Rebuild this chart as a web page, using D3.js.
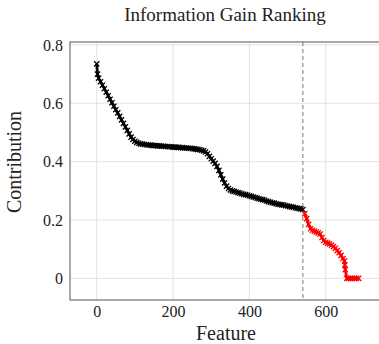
<!DOCTYPE html>
<html>
<head>
<meta charset="utf-8">
<script src="https://cdn.jsdelivr.net/npm/d3@7"></script>
<style>
  body { margin: 0; background: #fff; }
  svg { display: block; }
</style>
</head>
<body>
<div id="chart"></div>
<script>
// feature rank index and its information-gain contribution
const features = [
  0, 2, 5, 10, 15, 20, 25, 30, 35, 40, 45, 50, 55, 60, 65, 70, 75, 80, 85, 90, 95,
  100, 105, 110, 115, 120, 125, 130, 135, 140, 145, 150, 155, 160, 165, 170, 175,
  180, 185, 190, 195, 200, 205, 210, 215, 220, 225, 230, 235, 240, 245, 250, 255,
  260, 265, 270, 275, 280, 285, 290, 295, 300, 305, 310, 315, 320, 325, 330, 335,
  340, 345, 350, 355, 360, 365, 370, 375, 380, 385, 390, 395, 400, 405, 410, 415,
  420, 425, 430, 435, 440, 445, 450, 455, 460, 465, 470, 475, 480, 485, 490, 495,
  500, 505, 510, 515, 520, 525, 530, 535, 540,
  545, 550, 555, 560, 565, 570, 575, 580, 585, 590, 595, 600, 605, 610, 615, 620,
  625, 630, 635, 640, 645, 649, 650, 651,
  655, 660, 665, 670, 675, 680, 686
];
const contribution = [
  0.735, 0.700, 0.686, 0.674, 0.662, 0.650, 0.638, 0.626, 0.614, 0.602, 0.590,
  0.578, 0.567, 0.555, 0.543, 0.531, 0.519, 0.507, 0.495, 0.484, 0.476,
  0.470, 0.466, 0.463, 0.461, 0.460, 0.459, 0.458, 0.457, 0.457, 0.456, 0.455,
  0.455, 0.454, 0.454, 0.453, 0.453, 0.452, 0.452, 0.451, 0.451, 0.450, 0.450,
  0.449, 0.449, 0.448, 0.448, 0.447, 0.447, 0.446, 0.446, 0.445, 0.444, 0.443,
  0.442, 0.441, 0.439, 0.437, 0.433, 0.427, 0.418, 0.410, 0.402, 0.394, 0.384,
  0.370, 0.355, 0.340, 0.327, 0.316, 0.308, 0.303, 0.300, 0.298, 0.296, 0.294,
  0.292, 0.290, 0.288, 0.287, 0.285, 0.283, 0.281, 0.279, 0.277, 0.275, 0.273,
  0.271, 0.270, 0.268, 0.265, 0.263, 0.261, 0.259, 0.258, 0.256, 0.254, 0.253,
  0.252, 0.251, 0.249, 0.248, 0.246, 0.245, 0.244, 0.242, 0.241, 0.239, 0.238,
  0.236,
  0.222, 0.205, 0.185, 0.170, 0.165, 0.162, 0.159, 0.156, 0.152, 0.140, 0.130,
  0.124, 0.121, 0.118, 0.114, 0.109, 0.103, 0.095, 0.088, 0.079, 0.068, 0.060,
  0.046, 0.030,
  0, 0, 0, 0, 0, 0, 0
];
const cutoff = 540;
const xTicks = [0, 200, 400, 600];
const yTicks = [0, 0.2, 0.4, 0.6, 0.8];
const titleText = "Information Gain Ranking";
const xLabelText = "Feature";
const yLabelText = "Contribution";

const WIDTH = 379, HEIGHT = 344;
const MARGIN = { LEFT: 70, RIGHT: -1, TOP: 42, BOTTOM: 44 };
const w = WIDTH - MARGIN.LEFT - MARGIN.RIGHT;
const h = HEIGHT - MARGIN.TOP - MARGIN.BOTTOM;
const FONT = "'Liberation Serif', serif";

const svg = d3.select("#chart").append("svg")
  .attr("width", WIDTH)
  .attr("height", HEIGHT);

const g = svg.append("g")
  .attr("transform", `translate(${MARGIN.LEFT}, ${MARGIN.TOP})`);

const x = d3.scaleLinear().domain([-70, 742]).range([0, w]);
const y = d3.scaleLinear().domain([-0.074, 0.81]).range([h, 0]);

// grid
g.append("g").selectAll("line").data(xTicks).enter().append("line")
  .attr("x1", d => x(d)).attr("x2", d => x(d))
  .attr("y1", 0).attr("y2", h)
  .attr("stroke", "#dcdcdc").attr("stroke-width", 0.8);
g.append("g").selectAll("line").data(yTicks).enter().append("line")
  .attr("x1", 0).attr("x2", w)
  .attr("y1", d => y(d)).attr("y2", d => y(d))
  .attr("stroke", "#dcdcdc").attr("stroke-width", 0.8);

// cutoff line
g.append("line")
  .attr("x1", x(cutoff)).attr("x2", x(cutoff))
  .attr("y1", 0).attr("y2", h)
  .attr("stroke", "#555").attr("stroke-width", 0.8)
  .attr("stroke-dasharray", "4,3");

// data
const pts = features.map((f, i) => ({ f, v: contribution[i] }));
const before = pts.filter(p => p.f <= cutoff);
const after = pts.filter(p => p.f > cutoff);

const line = d3.line().x(d => x(d.f)).y(d => y(d.v));
const drawSeries = (data, color) => {
  g.append("path").datum(data)
    .attr("d", line)
    .attr("fill", "none")
    .attr("stroke", color)
    .attr("stroke-width", 2.8);
  const s = 2.6;
  g.append("g").selectAll("path").data(data).enter().append("path")
    .attr("d", d => {
      const cx = x(d.f), cy = y(d.v);
      return `M${cx - s},${cy - s}L${cx + s},${cy + s}M${cx - s},${cy + s}L${cx + s},${cy - s}`;
    })
    .attr("stroke", color)
    .attr("stroke-width", 1.3);
};
drawSeries(before, "#000");
drawSeries(after, "#ff0000");

// axes frame
const xAxis = d3.axisBottom(x).tickValues(xTicks).tickSize(0).tickPadding(6);
const yAxis = d3.axisLeft(y).tickValues(yTicks).tickSize(0).tickPadding(7)
  .tickFormat(d => d === 0 ? "0" : d3.format(".1f")(d));

const xg = g.append("g").attr("transform", `translate(0, ${h})`).call(xAxis);
const yg = g.append("g").call(yAxis);
[xg, yg].forEach(a => {
  a.attr("font-family", null).attr("font-size", null);
  a.select(".domain").remove();
  a.selectAll("text")
    .style("font-family", FONT)
    .style("font-size", "16px")
    .attr("fill", "#222");
});

g.append("rect")
  .attr("x", 0).attr("y", 0).attr("width", w).attr("height", h)
  .attr("fill", "none").attr("stroke", "#555").attr("stroke-width", 1);

// labels
svg.append("text")
  .attr("x", 225).attr("y", 21)
  .attr("text-anchor", "middle")
  .style("font-family", FONT)
  .style("font-size", "19px")
  .attr("fill", "#222")
  .text(titleText);

svg.append("text")
  .attr("x", 226).attr("y", 340)
  .attr("text-anchor", "middle")
  .style("font-family", FONT)
  .style("font-size", "20px")
  .attr("fill", "#222")
  .text(xLabelText);

svg.append("text")
  .attr("transform", "translate(21, 162) rotate(-90)")
  .attr("text-anchor", "middle")
  .style("font-family", FONT)
  .style("font-size", "20px")
  .attr("fill", "#222")
  .text(yLabelText);
</script>
</body>
</html>
